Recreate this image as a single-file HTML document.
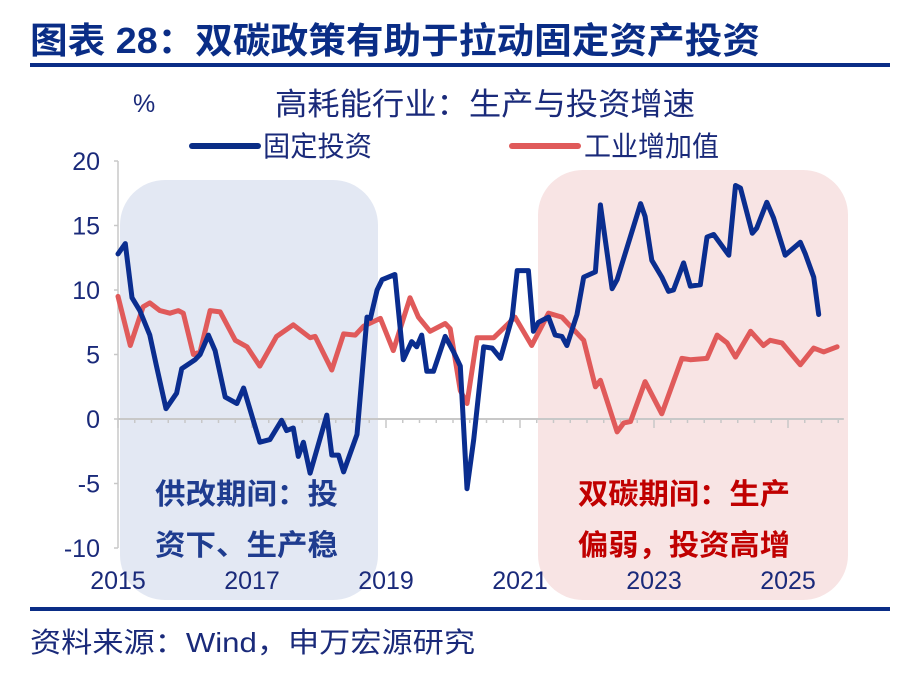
<!DOCTYPE html>
<html><head><meta charset="utf-8">
<style>
html,body{margin:0;padding:0;background:#fff;}
body{width:909px;height:668px;overflow:hidden;font-family:"Liberation Sans","Noto Sans CJK SC",sans-serif;}
svg text{font-family:"Liberation Sans","Noto Sans CJK SC",sans-serif;}
</style></head>
<body>
<svg id="chart" width="909" height="668" viewBox="0 0 909 668" xmlns="http://www.w3.org/2000/svg">
<text x="30" y="53" font-size="36" font-weight="bold" fill="#0a2d86" textLength="730" lengthAdjust="spacingAndGlyphs">图表 28：双碳政策有助于拉动固定资产投资</text>
<rect x="30" y="63" width="860" height="4" fill="#0a2d86"/>
<rect x="120" y="180" width="258" height="420" rx="45" fill="#e3e8f3"/>
<rect x="538" y="170" width="310" height="430" rx="45" fill="#f8e4e4"/>
<text x="133" y="112" font-size="25" fill="#1a2a7a">%</text>
<text x="485" y="115" font-size="31" fill="#1a2a7a" text-anchor="middle" textLength="420" lengthAdjust="spacingAndGlyphs">高耗能行业：生产与投资增速</text>
<g>
<line x1="192" y1="146" x2="258" y2="146" stroke="#0a2d86" stroke-width="6" stroke-linecap="round"/>
<text x="263" y="156" font-size="28" fill="#1a2a7a" textLength="109" lengthAdjust="spacingAndGlyphs">固定投资</text></g>
<g>
<line x1="512" y1="146" x2="578" y2="146" stroke="#e05a5a" stroke-width="6" stroke-linecap="round"/>
<text x="584" y="156" font-size="28" fill="#1a2a7a" textLength="135" lengthAdjust="spacingAndGlyphs">工业增加值</text></g>
<g id="axes"></g>
<g id="series"></g>
<text x="155" y="504" font-size="29" font-weight="bold" fill="#1f3c8f" textLength="183" lengthAdjust="spacingAndGlyphs">供改期间：投</text>
<text x="155" y="555" font-size="29" font-weight="bold" fill="#1f3c8f" textLength="183" lengthAdjust="spacingAndGlyphs">资下、生产稳</text>
<text x="578" y="504" font-size="29" font-weight="bold" fill="#c00000" textLength="212" lengthAdjust="spacingAndGlyphs">双碳期间：生产</text>
<text x="578" y="555" font-size="29" font-weight="bold" fill="#c00000" textLength="212" lengthAdjust="spacingAndGlyphs">偏弱，投资高增</text>
<rect x="30" y="607" width="860" height="4" fill="#0a2d86"/>
<text x="30" y="652" font-size="28" fill="#1a2a7a" textLength="445" lengthAdjust="spacingAndGlyphs">资料来源：Wind，申万宏源研究</text>
</svg>
<script>
const yTicks=[20,15,10,5,0,-5,-10];
const xYears=[2015,2017,2019,2021,2023,2025];
// month index from Jan 2015
const invMonths=[0,1.3,2.5,3.9,5.7,6.9,8.6,10.5,11.4,13.8,14.7,16.2,17.4,19.2,21.3,22.5,25.4,27.2,29.3,30.2,31.4,32.3,33.2,34.4,37.4,38.3,39.5,40.4,42.8,44.6,45.2,46.4,47.3,49.6,51.1,52.6,53.5,54.4,55.3,56.5,58.6,60.1,61.3,62.5,63.7,65.5,67,68.5,70.6,71.5,73.5,74.4,75.3,77.1,78.3,79.5,80.4,82.2,83.4,85.5,86.4,88.5,89.4,93.6,94.4,95.6,97.4,98.6,99.5,101.3,102.5,104.3,105.5,106.7,109.4,110.6,111.5,113.6,114.4,116.2,117.4,119.5,122.2,123.1,124.6,125.5];
const invValues=[12.8,13.6,9.4,8.4,6.5,4.1,0.8,2.0,3.9,4.6,5.0,6.5,5.3,1.7,1.2,2.4,-1.8,-1.6,-0.1,-0.9,-0.7,-2.9,-1.8,-4.2,0.3,-2.8,-2.8,-4.1,-1.2,7.9,7.8,10.0,10.8,11.2,4.6,6.0,5.6,6.5,3.7,3.7,6.4,5.2,4.1,-5.4,-1.6,5.6,5.5,4.7,7.9,11.5,11.5,6.8,7.5,7.9,6.5,6.4,5.7,8.1,11.0,11.4,16.6,10.1,10.8,16.7,15.7,12.3,11.0,9.9,10.0,12.1,10.3,10.4,14.1,14.3,12.7,18.1,17.9,14.4,14.8,16.8,15.6,12.7,13.7,12.8,11.0,8.1];
const indMonths=[0,2.2,4.5,5.7,7.5,9.3,10.8,11.7,13.5,14.7,16.5,18.3,21,23.1,25.4,28.4,31.4,34.4,35.3,38.3,40.4,42.5,44,47,49.3,52.3,53.8,55.9,58.6,59.5,61.3,62.5,64.3,65.5,67.3,71.1,74.1,77.1,79.5,83.4,85.5,86.4,89.4,90.6,91.8,94.4,97.4,101,102.5,105.5,107.3,109.1,110.6,113.3,115.6,116.8,118.9,122.2,124.6,126.4,128.8];
const indValues=[9.5,5.7,8.7,9.0,8.4,8.2,8.4,8.2,5.0,5.2,8.4,8.3,6.1,5.6,4.1,6.4,7.3,6.3,6.4,3.8,6.6,6.5,7.2,7.8,5.3,9.4,7.9,6.8,7.4,7.0,2.2,1.2,6.3,6.3,6.3,7.9,5.7,8.2,7.9,6.1,2.5,3.0,-1.0,-0.3,-0.2,2.9,0.4,4.7,4.6,4.7,6.5,5.9,4.8,6.8,5.7,6.1,5.9,4.2,5.5,5.2,5.6];

const NS='http://www.w3.org/2000/svg';
const x0=118, pxPerMonth=67/12;
function xScale(m){return x0+m*pxPerMonth;}
function yScale(v){return 419-v*12.9;}
const axes=document.getElementById('axes');
const series=document.getElementById('series');
function mk(tag,attrs,parent){const e=document.createElementNS(NS,tag);for(const k in attrs)e.setAttribute(k,attrs[k]);parent.appendChild(e);return e;}

const yAxis=mk('line',{x1:118,y1:yScale(20),x2:118,y2:yScale(-10),stroke:'#c8c8c8','stroke-width':1.5},axes);


yTicks.forEach(v=>{
  const t=mk('line',{x1:114,y1:yScale(v),x2:118,y2:yScale(v),stroke:'#c8c8c8','stroke-width':1.5},axes);
  
  
  const l=mk('text',{x:100,y:yScale(v)+9,'font-size':25,fill:'#1a2a7a','text-anchor':'end'},axes);
  l.textContent=v;
  
  
});
const xAxis=mk('line',{x1:118,y1:419,x2:xScale(130),y2:419,stroke:'#c8c8c8','stroke-width':2},axes);


for(let q=0;q<=43;q++){
  const m=q*3; if(m>130)break;
  const major=(m%24===0);
  const t=mk('line',{x1:xScale(m),y1:419,x2:xScale(m),y2:major?428:423,stroke:'#c8c8c8','stroke-width':1.5},axes);
  
  
}
xYears.forEach(y=>{
  const m=(y-2015)*12;
  const l=mk('text',{x:xScale(m),y:589,'font-size':25,fill:'#1a2a7a','text-anchor':'middle'},axes);
  l.textContent=y;
  
  
});
function pts(ms,vs){return ms.map((m,i)=>xScale(m).toFixed(1)+','+yScale(vs[i]).toFixed(1)).join(' ');}
const red=mk('polyline',{points:pts(indMonths,indValues),fill:'none',stroke:'#e05a5a','stroke-width':5,'stroke-linejoin':'round','stroke-linecap':'round'},series);


const blue=mk('polyline',{points:pts(invMonths,invValues),fill:'none',stroke:'#0a2d8f','stroke-width':5,'stroke-linejoin':'round','stroke-linecap':'round'},series);


</script>
</body></html>
